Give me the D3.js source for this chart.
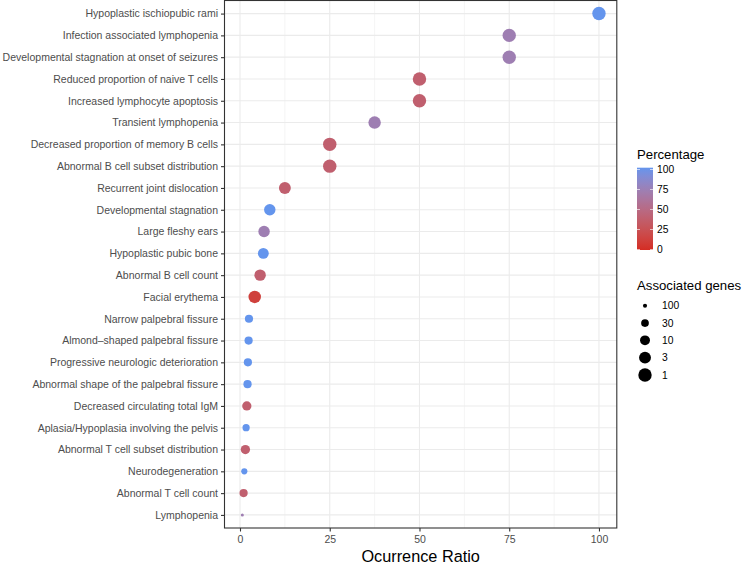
<!DOCTYPE html>
<html><head><meta charset="utf-8">
<script src="https://cdn.jsdelivr.net/npm/d3@7"></script>
<style>body{margin:0;background:#fff}svg{display:block;font-family:"Liberation Sans",Arial,Helvetica,sans-serif}</style>
</head><body><svg id="c" width="745" height="564"></svg>
<script>
const categories = ["Hypoplastic ischiopubic rami","Infection associated lymphopenia","Developmental stagnation at onset of seizures","Reduced proportion of naive T cells","Increased lymphocyte apoptosis","Transient lymphopenia","Decreased proportion of memory B cells","Abnormal B cell subset distribution","Recurrent joint dislocation","Developmental stagnation","Large fleshy ears","Hypoplastic pubic bone","Abnormal B cell count","Facial erythema","Narrow palpebral fissure","Almond\u2013shaped palpebral fissure","Progressive neurologic deterioration","Abnormal shape of the palpebral fissure","Decreased circulating total IgM","Aplasia/Hypoplasia involving the pelvis","Abnormal T cell subset distribution","Neurodegeneration","Abnormal T cell count","Lymphopenia"];
const occurrenceRatio = [100,75,75,50,50,37.5,25,25,12.5,8.3,6.7,6.5,5.6,4.1,2.5,2.4,2.2,2.1,1.9,1.7,1.5,1.2,1.0,0.65];
const percentage = [100,72,72,38,38,72,38,38,38,100,72,100,38,12,100,100,100,100,38,100,38,100,38,72];
const associatedGenes = [1,1,1,1,1,2,1,1,3,4,4,6,4,2,24,24,24,24,14,37,14,55,24,124];
const xTicks = [0,25,50,75,100];
const colorTicks = [0,25,50,75,100];
const sizeBreaks = [100,30,10,3,1];

const svg = d3.select("#c");
const P = {l:224.5, r:616.8, t:0.5, b:528};
const xmin = d3.min(occurrenceRatio), xmax = d3.max(occurrenceRatio), sp = xmax - xmin;
const x = d3.scaleLinear().domain([xmin - 0.05*sp, xmax + 0.05*sp]).range([P.l, P.r]);
const y = d3.scalePoint().domain(categories).range([P.t, P.b]).padding(0.6);
const col = d3.scaleLinear().domain([0,100]).range(["#D42C24","#6495ED"]).interpolate(d3.interpolateLab);
const area = d3.scaleLinear().domain([0,2]).range([45, 4.2]);
const rad = g => Math.sqrt(Math.max(0.5, area(Math.log10(g))));

// grid
const g = svg.append("g");
const minor = [12.5,37.5,62.5,87.5];
g.selectAll("line.mn").data(minor).join("line").attr("x1",d=>x(d)).attr("x2",d=>x(d)).attr("y1",P.t).attr("y2",P.b).attr("stroke","#EBEBEB").attr("stroke-width",0.55);
g.selectAll("line.mx").data(xTicks).join("line").attr("x1",d=>x(d)).attr("x2",d=>x(d)).attr("y1",P.t).attr("y2",P.b).attr("stroke","#EBEBEB").attr("stroke-width",1.1);
g.selectAll("line.my").data(categories).join("line").attr("x1",P.l).attr("x2",P.r).attr("y1",d=>y(d)).attr("y2",d=>y(d)).attr("stroke","#EBEBEB").attr("stroke-width",1.1);

// points
svg.append("g").selectAll("circle").data(categories).join("circle")
  .attr("cx",(d,i)=>x(occurrenceRatio[i])).attr("cy",d=>y(d))
  .attr("r",(d,i)=>rad(associatedGenes[i])).attr("fill",(d,i)=>col(percentage[i]));

// border
svg.append("rect").attr("x",P.l).attr("y",P.t).attr("width",P.r-P.l).attr("height",P.b-P.t).attr("fill","none").attr("stroke","#333333").attr("stroke-width",1.1);

// axes
const ax = svg.append("g").attr("transform",`translate(0,${P.b})`).call(d3.axisBottom(x).tickValues(xTicks).tickSize(3.5).tickPadding(4).tickFormat(d3.format("d")));
const ay = svg.append("g").attr("transform",`translate(${P.l},0)`).call(d3.axisLeft(y).tickSize(3.5).tickPadding(3));
[ax,ay].forEach(a=>{a.select(".domain").remove();a.selectAll(".tick line").attr("stroke","#333333").attr("stroke-width",1.1);a.selectAll("text").attr("fill","#4D4D4D").style("font-size","10.5px").style("font-family","Liberation Sans, Arial, sans-serif");});
svg.append("text").attr("x",(P.l+P.r)/2).attr("y",562).attr("text-anchor","middle").style("font-size","16.3px").attr("fill","#000").text("Ocurrence Ratio");

// colour legend
const L = svg.append("g");
L.append("text").attr("x",637).attr("y",158.5).style("font-size","13.2px").text("Percentage");
const cb = {x:637, w:16, top:167.7, bot:250};
const cy = d3.scaleLinear().domain([0,100]).range([249.5,169.5]);
const defs = svg.append("defs");
const lg = defs.append("linearGradient").attr("id","cg").attr("x1",0).attr("x2",0).attr("y1",1).attr("y2",0);
d3.range(0,101,5).forEach(v=>lg.append("stop").attr("offset",v/100).attr("stop-color",col(v)));
L.append("rect").attr("x",cb.x).attr("y",cb.top).attr("width",cb.w).attr("height",cb.bot-cb.top).attr("fill","url(#cg)");
L.selectAll("line.t1").data(colorTicks).join("line").attr("x1",cb.x).attr("x2",cb.x+3).attr("y1",d=>cy(d)).attr("y2",d=>cy(d)).attr("stroke","#fff").attr("stroke-width",0.8).attr("opacity",0.8);
L.selectAll("line.t2").data(colorTicks).join("line").attr("x1",cb.x+cb.w-3).attr("x2",cb.x+cb.w).attr("y1",d=>cy(d)).attr("y2",d=>cy(d)).attr("stroke","#fff").attr("stroke-width",0.8).attr("opacity",0.8);
L.selectAll("text.cl").data(colorTicks).join("text").attr("x",657).attr("y",d=>cy(d)+3.6).style("font-size","10.3px").attr("fill","#000").text(d=>d);

// size legend
L.append("text").attr("x",637).attr("y",290).style("font-size","13.2px").text("Associated genes");
const sy = d3.scalePoint().domain(sizeBreaks).range([305.7,375]);
L.selectAll("circle.s").data(sizeBreaks).join("circle").attr("cx",645).attr("cy",d=>sy(d)).attr("r",d=>rad(d)).attr("fill","#000");
L.selectAll("text.sl").data(sizeBreaks).join("text").attr("x",662).attr("y",d=>sy(d)+3.6).style("font-size","10.3px").text(d=>d);
</script></body></html>
